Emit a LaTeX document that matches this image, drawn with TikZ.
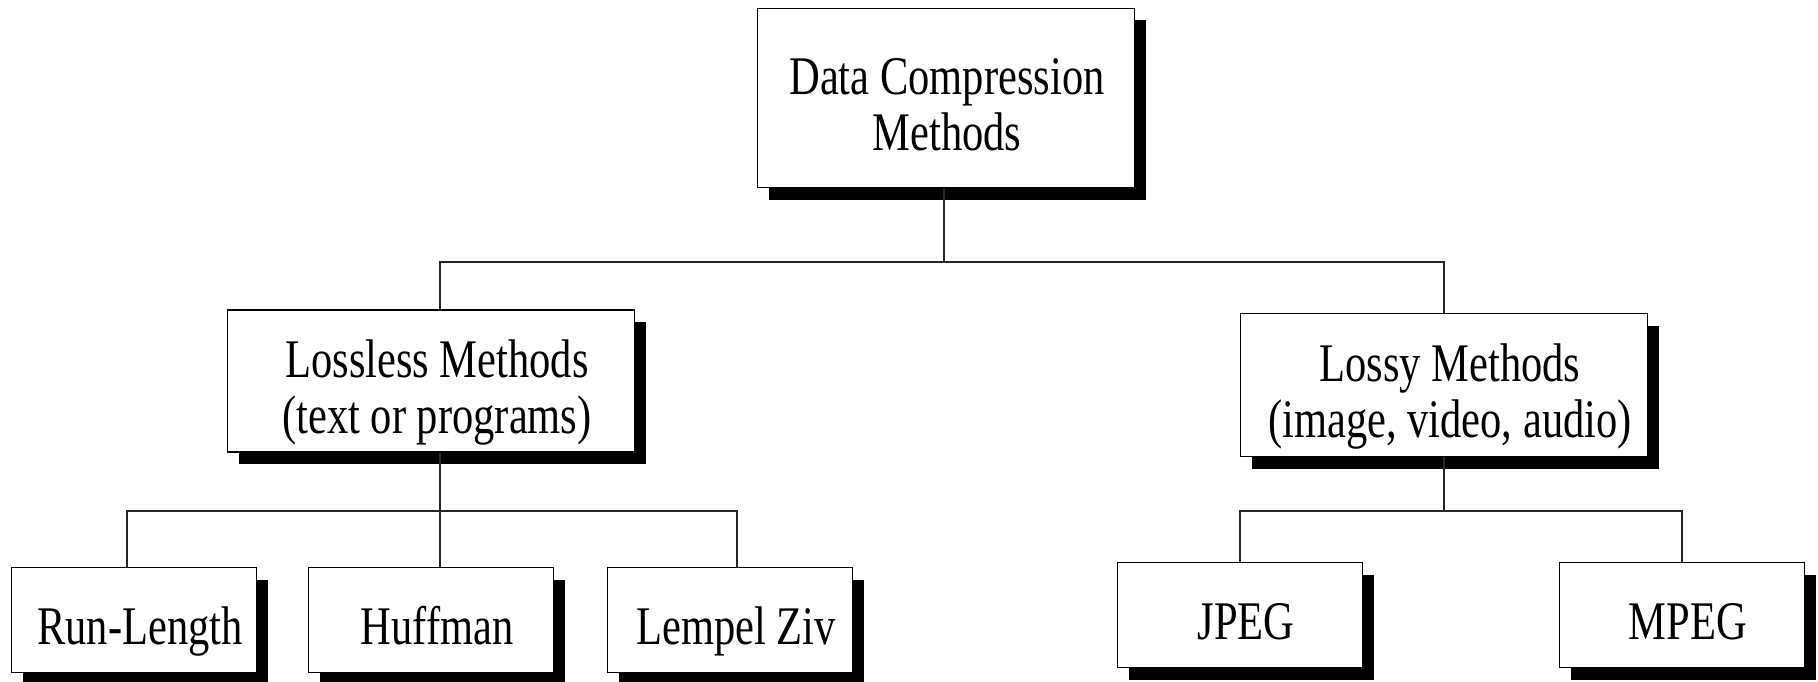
\documentclass[tikz,border=0pt]{standalone}
\usepackage{fontspec}
\setmainfont{Liberation Serif}
\usetikzlibrary{shadows,calc}
\newcommand{\tallbox}[2][12pt]{\hspace*{#1}\raisebox{-13pt}[\height][\depth]{\scalebox{1}[1.28]{\begin{tabular}{@{}c@{}}#2\end{tabular}}}}
\begin{document}
\begin{tikzpicture}[x=1pt,y=-1pt]
		\tikzset{methbox/.style={draw=black,line width=1.8pt,fill=white,inner sep=0pt,
				font=\fontsize{42.5}{44}\selectfont,
				drop shadow={shadow xshift=11pt,shadow yshift=-12pt,fill=black,opacity=1}},
			leafbox/.style={methbox,minimum width=245pt,minimum height=105pt},
			conn/.style={draw=black!85,line width=1.4pt}}
		\useasboundingbox (0,0) rectangle (1818,682);
		%Root
		\node[methbox,minimum width=377pt,minimum height=179pt] (dcm) at (946,98) {\tallbox[2pt]{Data Compression\\Methods}};
		%Second level
		\node[methbox,minimum width=407pt,minimum height=142pt] (lossless) at (431,381) {\tallbox{Lossless Methods\\(text or programs)}};
		\node[methbox,minimum width=407pt,minimum height=143pt] (lossy) at (1444,385) {\tallbox{Lossy Methods\\(image, video, audio)}};
		%Leaves
		\node[leafbox] (runlen) at (134,620) {\tallbox{Run-Length}};
		\node[leafbox] (huffman) at (431,620) {\tallbox{Huffman}};
		\node[leafbox] (lempel) at (730,620) {\tallbox{Lempel Ziv}};
		\node[leafbox] (jpeg) at (1240,615) {\tallbox{JPEG}};
		\node[leafbox] (mpeg) at (1682,615) {\tallbox{MPEG}};
		%Connectors
		\coordinate (top) at ($(dcm.south)+(-2,0)$);
		\coordinate (mid) at ($(lossless.south)+(9,0)$);
		\draw[conn] (top) -- (top |- 0,262);
		\draw[conn] (mid |- lossless.north) |- (top |- 0,262) -| (lossy.north);
		\draw[conn] (mid) -- (mid |- huffman.north);
		\draw[conn] ($(runlen.north)+(-7,0)$) |- (mid |- 0,511) -| ($(lempel.north)+(7,0)$);
		\draw[conn] (lossy.south) -- (lossy.south |- 0,511);
		\draw[conn] (jpeg.north) |- (lossy.south |- 0,511) -| (mpeg.north);
	\end{tikzpicture}
\end{document}
